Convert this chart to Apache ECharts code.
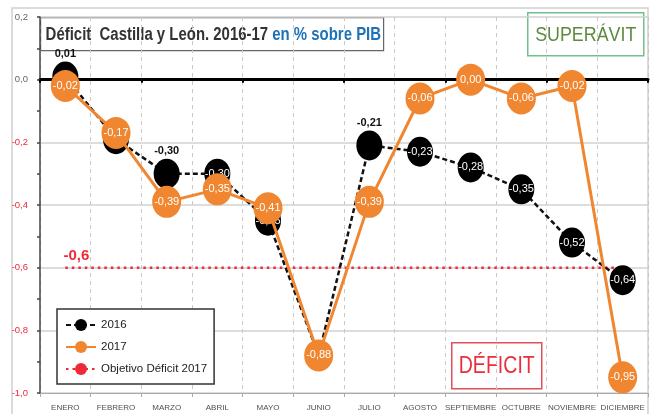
<!DOCTYPE html>
<html>
<head>
<meta charset="utf-8">
<script src="https://cdn.jsdelivr.net/npm/echarts@6/dist/echarts.min.js"></script>
<style>
  html, body { margin: 0; padding: 0; background: #fff; }
  #main { width: 652px; height: 414px; }
</style>
</head>
<body>
<div id="main"></div>
<script>
// Data
const months = ['ENERO', 'FEBRERO', 'MARZO', 'ABRIL', 'MAYO', 'JUNIO', 'JULIO',
    'AGOSTO', 'SEPTIEMBRE', 'OCTUBRE', 'NOVIEMBRE', 'DICIEMBRE'];
const deficit2016 = [0.01, -0.19, -0.30, -0.30, -0.45, -0.88, -0.21, -0.23, -0.28, -0.35, -0.52, -0.64];
const deficit2017 = [-0.02, -0.17, -0.39, -0.35, -0.41, -0.88, -0.39, -0.06, 0.00, -0.06, -0.02, -0.95];
const objetivo2017 = [-0.6, -0.6, -0.6, -0.6, -0.6, -0.6, -0.6, -0.6, -0.6, -0.6, -0.6, -0.6];
// 2016 points whose label sits above the marker
const labelAbove2016 = [0, 2, 6];

const FONT = "'Liberation Sans', Arial, sans-serif";
const ORANGE = '#f0862f';
const RED = '#ee2a3a';

const fmt = v => v.toFixed(2).replace('.', ',');

var chartDom = document.getElementById('main');
var myChart = echarts.init(chartDom);

// 2016 data with per-point label placement
let data2016 = [];
for (let i = 0; i < deficit2016.length; i++) {
    if (labelAbove2016.includes(i)) {
        data2016.push({
            value: deficit2016[i],
            label: { position: 'top', color: '#111', distance: 2, fontWeight: 'bold' }
        });
    } else {
        data2016.push(deficit2016[i]);
    }
}

var option = {
    backgroundColor: '#fff',
    animation: false,
    textStyle: { fontFamily: FONT },
    grid: { left: 40, right: 4, top: 17, bottom: 21, containLabel: false },
    legend: {
        orient: 'vertical',
        left: 57,
        top: 309,
        itemWidth: 30,
        itemHeight: 15,
        itemGap: 10,
        padding: [10, 7, 9, 8],
        borderColor: '#333',
        borderWidth: 1.5,
        backgroundColor: '#fff',
        textStyle: { fontFamily: FONT, fontSize: 11.5, color: '#222' },
        data: ['2016', '2017', 'Objetivo Déficit 2017']
    },
    xAxis: [
        {
            type: 'category',
            data: months,
            boundaryGap: true,
            axisLine: { onZero: false, lineStyle: { color: '#aaa', width: 1 } },
            axisTick: { show: true, lineStyle: { color: '#aaa' }, length: 4 },
            axisLabel: { fontFamily: FONT, fontSize: 8, color: '#505050', margin: 11, interval: 0 },
            splitLine: { show: true, lineStyle: { color: '#c8c8c8', type: [4, 4], width: 1 } }
        },
        {
            // thick black line at zero
            type: 'category',
            data: months,
            position: 'bottom',
            boundaryGap: true,
            axisLine: { onZero: true, lineStyle: { color: '#000', width: 3 } },
            axisTick: { show: true, lineStyle: { color: '#000', width: 2 }, length: 3 },
            axisLabel: { show: false },
            splitLine: { show: false }
        }
    ],
    yAxis: {
        type: 'value',
        min: -1,
        max: 0.2,
        interval: 0.2,
        axisLine: { show: true, lineStyle: { color: '#444', width: 1.5 } },
        axisTick: { show: true, lineStyle: { color: '#444', width: 1.5 }, length: 3 },
        minorTick: { show: true, splitNumber: 2, length: 3, lineStyle: { color: '#444', width: 1.5 } },
        axisLabel: {
            fontFamily: FONT,
            fontSize: 9.5,
            margin: 12,
            formatter: v => (v.toFixed(1).replace('.', ',')),
            color: v => (Number(v) < 0 ? RED : '#666')
        },
        splitLine: { show: true, lineStyle: { color: '#d2d2d2', width: 1.5 } }
    },
    series: [
        {
            name: 'Objetivo Déficit 2017',
            type: 'line',
            data: objetivo2017,
            symbol: 'none',
            z: 2,
            color: RED,
            lineStyle: { color: RED, width: 2.5, type: [2.5, 4] },
            label: { show: false },
            markPoint: {
                symbol: 'rect',
                symbolSize: 1,
                itemStyle: { color: 'transparent' },
                label: {
                    show: true,
                    formatter: p => fmt(objetivo2017[0]).slice(0, 4),
                    color: RED,
                    fontFamily: FONT,
                    fontWeight: 'bold',
                    fontSize: 15,
                    offset: [11, -12]
                },
                data: [{ coord: [0, objetivo2017[0]] }]
            }
        },
        {
            name: '2016',
            type: 'line',
            data: data2016,
            z: 3,
            symbol: 'circle',
            symbolSize: [26, 30],
            color: '#000',
            itemStyle: { color: '#000' },
            lineStyle: { color: '#111', width: 2.5, type: [5, 3] },
            label: {
                show: true,
                position: 'inside',
                color: '#fff',
                fontFamily: FONT,
                fontSize: 11,
                formatter: p => fmt(p.value)
            }
        },
        {
            name: '2017',
            type: 'line',
            data: deficit2017,
            z: 4,
            symbol: 'circle',
            symbolSize: [29, 32],
            color: ORANGE,
            itemStyle: { color: ORANGE },
            lineStyle: { color: ORANGE, width: 3 },
            label: {
                show: true,
                position: 'inside',
                color: '#fff',
                fontFamily: FONT,
                fontSize: 11,
                formatter: p => fmt(p.value)
            }
        }
    ],
    graphic: [
        // outer frame
        {
            type: 'rect',
            shape: { x: 12, y: 8, width: 636, height: 420 },
            style: { fill: 'none', stroke: '#d0d0d0', lineWidth: 1.5 },
            silent: true, z: 0
        },
        // title box
        {
            type: 'group',
            left: 40, top: 17,
            z: 100,
            children: [
                {
                    type: 'rect',
                    shape: { x: 0, y: 0, width: 343, height: 33 },
                    style: { fill: '#fff', stroke: '#666', lineWidth: 1.2 }
                },
                {
                    type: 'text',
                    x: 5, y: 17,
                    scaleX: 0.83,
                    style: {
                        text: '{a|Déficit  Castilla y León. 2016-17 }{b|en % sobre PIB}',
                        verticalAlign: 'middle',
                        rich: {
                            a: { fontFamily: FONT, fontSize: 18, fontWeight: 'bold', fill: '#333' },
                            b: { fontFamily: FONT, fontSize: 18, fontWeight: 'bold', fill: '#1d72b8' }
                        }
                    }
                }
            ]
        },
        // SUPERÁVIT box
        {
            type: 'group',
            left: 527, top: 12,
            z: 100,
            children: [
                {
                    type: 'rect',
                    shape: { x: 0, y: 0, width: 116, height: 43 },
                    style: { fill: '#fff', stroke: '#72c08a', lineWidth: 1.5 }
                },
                {
                    type: 'text',
                    x: 58, y: 22,
                    scaleX: 0.85,
                    style: {
                        text: 'SUPERÁVIT',
                        fontFamily: FONT, fontSize: 21,
                        fill: '#5e8a3e', align: 'center', verticalAlign: 'middle'
                    }
                }
            ]
        },
        // DÉFICIT box
        {
            type: 'group',
            left: 451, top: 342,
            z: 100,
            children: [
                {
                    type: 'rect',
                    shape: { x: 0, y: 0, width: 90, height: 46 },
                    style: { fill: '#fff', stroke: '#e0505a', lineWidth: 1.5 }
                },
                {
                    type: 'text',
                    x: 45, y: 24,
                    scaleX: 0.85,
                    style: {
                        text: 'DÉFICIT',
                        fontFamily: FONT, fontSize: 23,
                        fill: '#ea2e3c', align: 'center', verticalAlign: 'middle'
                    }
                }
            ]
        }
    ]
};

option && myChart.setOption(option);
</script>
</body>
</html>
